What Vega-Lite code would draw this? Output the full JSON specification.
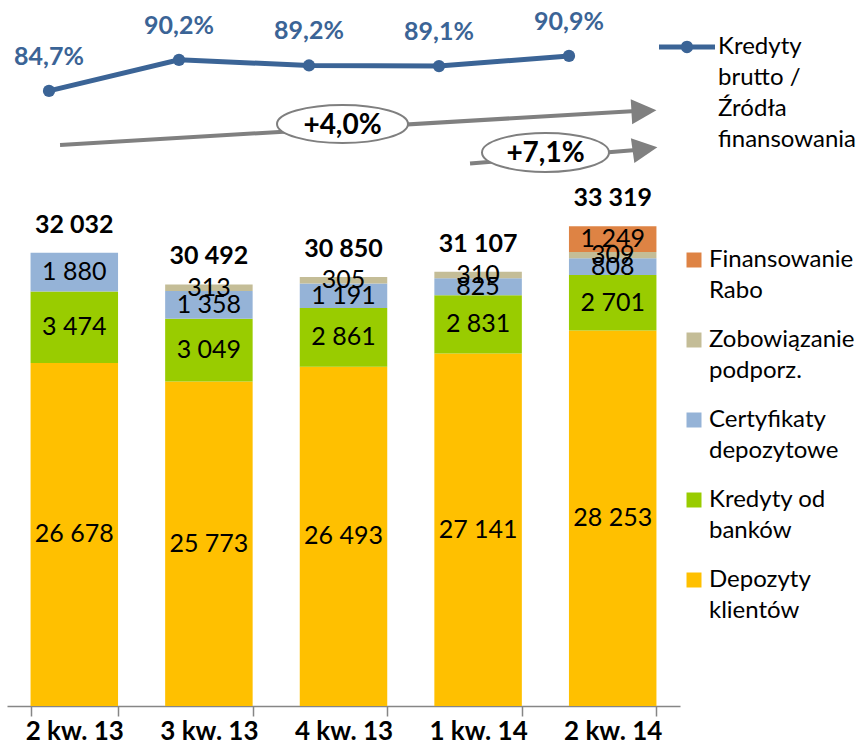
{
  "$schema": "https://vega.github.io/schema/vega-lite/v6.json",
  "width": 673,
  "height": 706,
  "autosize": "none",
  "padding": {"left": 7, "top": 0, "right": 183, "bottom": 39},
  "config": {
    "view": {"stroke": null},
    "font": "Lato",
    "locale": {"number": {"decimal": ",", "thousands": " ", "grouping": [3], "currency": ["", " zł"]}}
  },
  "datasets": {
    "pasywa": [
      {"kw": "2 kw. 13", "Pozycja": "Depozyty klientów", "Wartosc": 26678},
      {"kw": "2 kw. 13", "Pozycja": "Kredyty od banków", "Wartosc": 3474},
      {"kw": "2 kw. 13", "Pozycja": "Certyfikaty depozytowe", "Wartosc": 1880},
      {"kw": "3 kw. 13", "Pozycja": "Depozyty klientów", "Wartosc": 25773},
      {"kw": "3 kw. 13", "Pozycja": "Kredyty od banków", "Wartosc": 3049},
      {"kw": "3 kw. 13", "Pozycja": "Certyfikaty depozytowe", "Wartosc": 1358},
      {"kw": "3 kw. 13", "Pozycja": "Zobowiązanie podporz.", "Wartosc": 313},
      {"kw": "4 kw. 13", "Pozycja": "Depozyty klientów", "Wartosc": 26493},
      {"kw": "4 kw. 13", "Pozycja": "Kredyty od banków", "Wartosc": 2861},
      {"kw": "4 kw. 13", "Pozycja": "Certyfikaty depozytowe", "Wartosc": 1191},
      {"kw": "4 kw. 13", "Pozycja": "Zobowiązanie podporz.", "Wartosc": 305},
      {"kw": "1 kw. 14", "Pozycja": "Depozyty klientów", "Wartosc": 27141},
      {"kw": "1 kw. 14", "Pozycja": "Kredyty od banków", "Wartosc": 2831},
      {"kw": "1 kw. 14", "Pozycja": "Certyfikaty depozytowe", "Wartosc": 825},
      {"kw": "1 kw. 14", "Pozycja": "Zobowiązanie podporz.", "Wartosc": 310},
      {"kw": "2 kw. 14", "Pozycja": "Depozyty klientów", "Wartosc": 28253},
      {"kw": "2 kw. 14", "Pozycja": "Kredyty od banków", "Wartosc": 2701},
      {"kw": "2 kw. 14", "Pozycja": "Certyfikaty depozytowe", "Wartosc": 808},
      {"kw": "2 kw. 14", "Pozycja": "Zobowiązanie podporz.", "Wartosc": 309},
      {"kw": "2 kw. 14", "Pozycja": "Finansowanie Rabo", "Wartosc": 1249}
    ],
    "sumy": [
      {"kw": "2 kw. 13", "Suma": 32032},
      {"kw": "3 kw. 13", "Suma": 30492},
      {"kw": "4 kw. 13", "Suma": 30850},
      {"kw": "1 kw. 14", "Suma": 31107},
      {"kw": "2 kw. 14", "Suma": 33319}
    ],
    "wskaznik": [
      {"kw": "2 kw. 13", "seria": "Kredyty brutto / Źródła finansowania", "Wskaznik": 0.847},
      {"kw": "3 kw. 13", "seria": "Kredyty brutto / Źródła finansowania", "Wskaznik": 0.902},
      {"kw": "4 kw. 13", "seria": "Kredyty brutto / Źródła finansowania", "Wskaznik": 0.892},
      {"kw": "1 kw. 14", "seria": "Kredyty brutto / Źródła finansowania", "Wskaznik": 0.891},
      {"kw": "2 kw. 14", "seria": "Kredyty brutto / Źródła finansowania", "Wskaznik": 0.909}
    ],
    "strzalki": [
      {"id": "a", "ax": 0.394, "ay": 0.7513},
      {"id": "a", "ax": 4.673, "ay": 0.8115},
      {"id": "b", "ax": 3.44, "ay": 0.7182},
      {"id": "b", "ax": 4.673, "ay": 0.7424}
    ],
    "groty": [
      {"id": "a", "ax": 4.732, "ay": 0.8115},
      {"id": "b", "ax": 4.74, "ay": 0.7442}
    ],
    "zmiany": [
      {"id": "a", "ax": 2.4926, "ay": 0.7885, "Zmiana": 0.04},
      {"id": "b", "ax": 4.0007, "ay": 0.738, "Zmiana": 0.071}
    ]
  },
  "layer": [
    {
      "data": {"name": "pasywa"},
      "layer": [
        {
          "transform": [
            {"calculate": "indexof(['Depozyty klientów','Kredyty od banków','Certyfikaty depozytowe','Zobowiązanie podporz.','Finansowanie Rabo'], datum.Pozycja)", "as": "k"},
            {"stack": "Wartosc", "groupby": ["kw"], "sort": [{"field": "k", "order": "ascending"}], "as": ["y0", "y1"]}
          ],
          "mark": {"type": "bar"},
          "encoding": {
            "x": {
              "field": "kw", "type": "nominal", "sort": null,
              "scale": {"paddingInner": 0.35, "paddingOuter": 0.175},
              "axis": {
                "title": null, "labelAngle": 0, "domainColor": "#868686", "domainWidth": 1.5,
                "tickColor": "#868686", "tickWidth": 1.5, "tickBand": "extent", "tickSize": 10,
                "labelFontSize": 26, "labelFontWeight": "bold", "labelColor": "black",
                "labelFont": "Lato", "labelPadding": 2
              }
            },
            "y": {"field": "y0", "type": "quantitative", "scale": {"domain": [10000, 44322], "clamp": true, "zero": false, "nice": false}, "axis": null},
            "y2": {"field": "y1"},
            "color": {
              "field": "Pozycja", "type": "nominal",
              "scale": {
                "domain": ["Finansowanie Rabo", "Zobowiązanie podporz.", "Certyfikaty depozytowe", "Kredyty od banków", "Depozyty klientów"],
                "range": ["#DE8344", "#C4BD97", "#95B3D7", "#99CC00", "#FFC000"]
              },
              "legend": {
                "title": null, "orient": "none", "legendX": 675, "legendY": 248,
                "symbolType": "square", "symbolSize": 225, "symbolStrokeWidth": 0,
                "labelFontSize": 24, "labelFont": "Lato", "labelColor": "black",
                "labelOffset": 3, "labelLimit": 300, "rowPadding": 25,
                "labelExpr": "split(replace(datum.label, regexp(' (?=[^ ]+$)'), '|'), '|')",
                "encode": {"labels": {"update": {"lineHeight": {"value": 31}}}}
              }
            }
          }
        },
        {
          "transform": [
            {"calculate": "indexof(['Depozyty klientów','Kredyty od banków','Certyfikaty depozytowe','Zobowiązanie podporz.','Finansowanie Rabo'], datum.Pozycja)", "as": "k"},
            {"stack": "Wartosc", "groupby": ["kw"], "sort": [{"field": "k", "order": "ascending"}], "as": ["y0", "y1"]},
            {"calculate": "(max(datum.y0, 10000) + datum.y1) / 2", "as": "srodek"}
          ],
          "mark": {"type": "text", "fontSize": 25, "color": "black", "baseline": "middle"},
          "encoding": {
            "x": {"field": "kw", "type": "nominal", "sort": null},
            "y": {"field": "srodek", "type": "quantitative"},
            "text": {"field": "Wartosc", "type": "quantitative", "format": ",d"}
          }
        },
        {
          "data": {"name": "sumy"},
          "mark": {"type": "text", "fontSize": 25, "fontWeight": "bold", "color": "black", "baseline": "alphabetic", "dy": -20},
          "encoding": {
            "x": {"field": "kw", "type": "nominal", "sort": null},
            "y": {"field": "Suma", "type": "quantitative"},
            "text": {"field": "Suma", "type": "quantitative", "format": ",d"}
          }
        }
      ]
    },
    {
      "layer": [
        {
          "data": {"name": "strzalki"},
          "mark": {"type": "line", "color": "#808080", "strokeWidth": 4},
          "encoding": {
            "x": {"field": "ax", "type": "quantitative", "scale": {"domain": [0, 5], "nice": false, "zero": false}, "axis": null},
            "y": {"field": "ay", "type": "quantitative", "scale": {"domain": [-0.2425, 1.008], "nice": false, "zero": false}, "axis": null},
            "detail": {"field": "id"}
          }
        },
        {
          "data": {"name": "groty"},
          "transform": [{"filter": "datum.id == 'a'"}],
          "mark": {"type": "point", "shape": "M-1,-1L1,0L-1,1Z", "size": 625, "filled": true, "color": "#808080", "opacity": 1, "angle": -3.3},
          "encoding": {
            "x": {"field": "ax", "type": "quantitative"},
            "y": {"field": "ay", "type": "quantitative"}
          }
        },
        {
          "data": {"name": "groty"},
          "transform": [{"filter": "datum.id == 'b'"}],
          "mark": {"type": "point", "shape": "M-1,-1L1,0L-1,1Z", "size": 625, "filled": true, "color": "#808080", "opacity": 1, "angle": -8},
          "encoding": {
            "x": {"field": "ax", "type": "quantitative"},
            "y": {"field": "ay", "type": "quantitative"}
          }
        },
        {
          "data": {"name": "zmiany"},
          "transform": [{"filter": "datum.id == 'a'"}],
          "mark": {"type": "point", "shape": "M-1,0A1,0.29 0 1,1 1,0A1,0.29 0 1,1 -1,0Z", "size": 17161, "filled": true, "fill": "white", "stroke": "#7F7F7F", "strokeWidth": 2, "opacity": 1},
          "encoding": {
            "x": {"field": "ax", "type": "quantitative"},
            "y": {"field": "ay", "type": "quantitative"}
          }
        },
        {
          "data": {"name": "zmiany"},
          "transform": [{"filter": "datum.id == 'b'"}],
          "mark": {"type": "point", "shape": "M-1,0A1,0.307 0 1,1 1,0A1,0.307 0 1,1 -1,0Z", "size": 16129, "filled": true, "fill": "white", "stroke": "#7F7F7F", "strokeWidth": 2, "opacity": 1},
          "encoding": {
            "x": {"field": "ax", "type": "quantitative"},
            "y": {"field": "ay", "type": "quantitative"}
          }
        },
        {
          "data": {"name": "zmiany"},
          "mark": {"type": "text", "fontSize": 28, "fontWeight": "bold", "color": "black", "baseline": "middle", "dy": 2},
          "encoding": {
            "x": {"field": "ax", "type": "quantitative"},
            "y": {"field": "ay", "type": "quantitative"},
            "text": {"field": "Zmiana", "type": "quantitative", "format": "+.1%"}
          }
        }
      ]
    },
    {
      "data": {"name": "wskaznik"},
      "layer": [
        {
          "mark": {"type": "line", "strokeWidth": 5, "point": {"filled": true, "size": 150, "opacity": 1}},
          "encoding": {
            "x": {"field": "kw", "type": "ordinal", "sort": null, "scale": {"type": "point", "range": [42, 562], "padding": 0}, "axis": null},
            "y": {"field": "Wskaznik", "type": "quantitative", "scale": {"domain": [-0.2425, 1.008], "nice": false, "zero": false}, "axis": null},
            "color": {
              "field": "seria", "type": "nominal",
              "scale": {"range": ["#3B6496"]},
              "legend": {
                "title": null, "orient": "none", "legendX": 652, "legendY": 19,
                "symbolType": "M-1,-0.09L1,-0.09L1,0.09L-1,0.09Z M-0.22,0A0.22,0.22 0 1,1 0.22,0A0.22,0.22 0 1,1 -0.22,0Z",
                "symbolSize": 3136, "symbolFillColor": "#3B6496", "symbolStrokeWidth": 0,
                "labelFontSize": 24, "labelFont": "Lato", "labelColor": "black", "labelOffset": 3, "labelLimit": 300,
                "labelExpr": "['Kredyty', 'brutto /', 'Źródła', 'finansowania']",
                "encode": {
                  "labels": {"update": {"lineHeight": {"value": 31}}},
                  "symbols": {"update": {"fill": {"value": "#3B6496"}, "strokeWidth": {"value": 0}, "opacity": {"value": 1}}}
                }
              }
            }
          }
        },
        {
          "mark": {"type": "text", "fontSize": 25, "fontWeight": "bold", "color": "#3B6496", "baseline": "middle", "dy": -34},
          "encoding": {
            "x": {"field": "kw", "type": "ordinal", "sort": null},
            "y": {"field": "Wskaznik", "type": "quantitative"},
            "text": {"field": "Wskaznik", "type": "quantitative", "format": ".1%"}
          }
        }
      ]
    }
  ],
  "resolve": {"scale": {"x": "independent", "y": "independent", "color": "independent"}}
}
